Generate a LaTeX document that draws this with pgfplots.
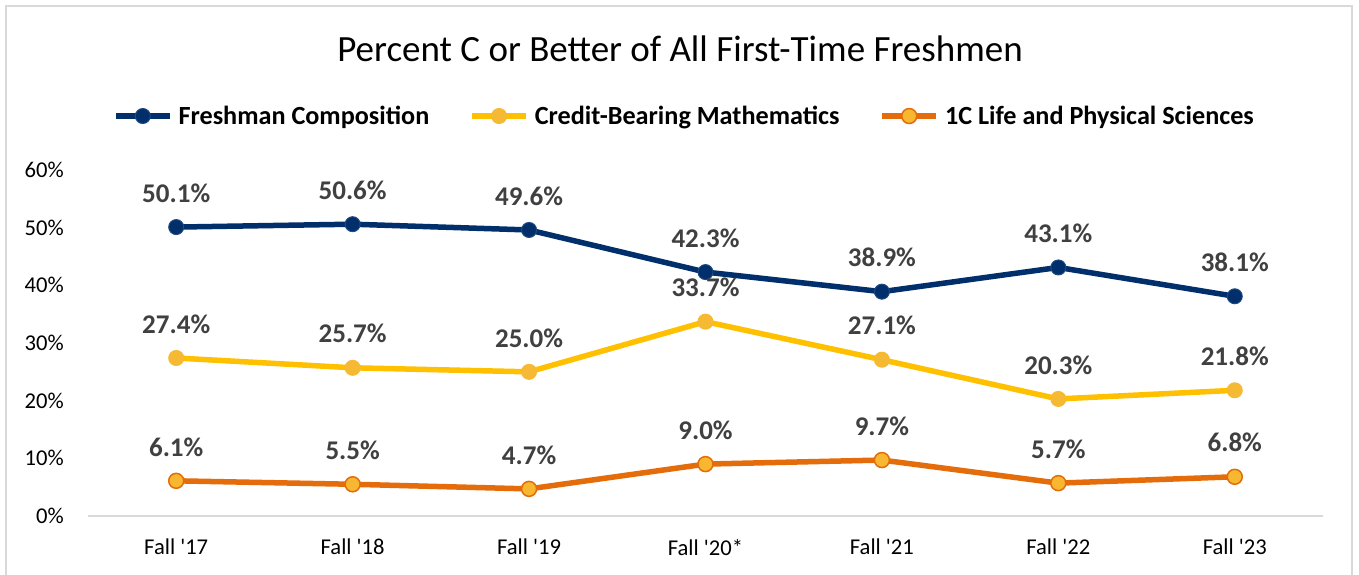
\documentclass[border=0pt]{standalone}
\usepackage{pgfplots}
\pgfplotsset{compat=1.18}
\usepackage{fontspec}
\setmainfont{Carlito}
\definecolor{navy}{HTML}{002F6B}
\definecolor{navyedge}{HTML}{1F4A80}
\definecolor{gold}{HTML}{FFC000}
\definecolor{goldfill}{HTML}{F6B933}
\definecolor{orangeline}{HTML}{E46C0A}
\definecolor{orangefill}{HTML}{F7B731}
\definecolor{labelgray}{HTML}{404040}
\definecolor{framegray}{HTML}{D9D9D9}
\definecolor{axisgray}{HTML}{D9D9D9}
\begin{document}
\begin{tikzpicture}
\useasboundingbox (0,0) rectangle (1359pt,575pt);
\fill[white] (0,0) rectangle (1359pt,575pt);
\draw[framegray, line width=1.5pt] (6pt,-10pt) -- (6pt,569pt) -- (1352pt,569pt) -- (1352pt,-10pt);
\node[anchor=base, inner sep=0pt, font=\fontsize{37}{44}\selectfont] at (680pt,513pt) {Percent C or Better of All First-Time Freshmen};
\begin{axis}[
  at={(88pt,59pt)}, anchor=south west,
  width=1235pt, height=346pt, scale only axis,
  xmin=-0.5, xmax=6.5, ymin=0, ymax=60,
  clip=false,
  xtick={0,1,2,3,4,5,6},
  xticklabels={Fall \textquotesingle17, Fall \textquotesingle18, Fall \textquotesingle19, Fall \textquotesingle20*, Fall \textquotesingle21, Fall \textquotesingle22, Fall \textquotesingle23},
  ytick={0,10,20,30,40,50,60},
  yticklabel={\pgfmathprintnumber{\tick}\%},
  axis x line*=bottom, axis y line*=left,
  x axis line style={draw=axisgray, line width=1.5pt, -},
  y axis line style={draw=none},
  tick style={draw=none},
  /pgf/number format/assume math mode=true,
  ticklabel style={font=\fontsize{22.6}{27}\selectfont, text=black},
  yticklabel style={anchor=east, inner sep=0pt, xshift=-24pt},
  xticklabel style={anchor=north, inner sep=0pt, yshift=-23pt},
  nodes near coords={\pgfmathprintnumber[fixed,fixed zerofill,precision=1]{\pgfplotspointmeta}\%},
  nodes near coords style={font=\bfseries\fontsize{27}{32}\selectfont, text=labelgray, anchor=center, yshift=34pt},
  legend style={at={(axis description cs:0.4822,1.156)}, anchor=center, draw=none, fill=none,
    font=\bfseries\fontsize{26.2}{32}\selectfont, nodes={inner sep=0pt},
    /tikz/every odd column/.append style={column sep=6pt},
    /tikz/every even column/.append style={column sep=40pt}},
  legend columns=3,
  legend cell align=left,
  legend image code/.code={\draw[mark repeat=2,mark phase=2,#1] plot coordinates {(0pt,0pt) (27pt,0pt) (54pt,0pt)};},
  every axis plot/.append style={line join=round},
]
\addplot[navy, line width=5.5pt, mark=*, mark size=7.5pt, mark options={fill=navy, draw=navyedge, line width=1pt}]
  coordinates {(0,50.1) (1,50.6) (2,49.6) (3,42.3) (4,38.9) (5,43.1) (6,38.1)};
\addlegendentry{Freshman Composition}
\addplot[gold, line width=5.5pt, mark=*, mark size=7.5pt, mark options={fill=goldfill, draw=goldfill, line width=1pt}]
  coordinates {(0,27.4) (1,25.7) (2,25.0) (3,33.7) (4,27.1) (5,20.3) (6,21.8)};
\addlegendentry{Credit-Bearing Mathematics}
\addplot[orangeline, line width=5.5pt, mark=*, mark size=7.5pt, mark options={fill=orangefill, draw=orangeline, line width=1.5pt}]
  coordinates {(0,6.1) (1,5.5) (2,4.7) (3,9.0) (4,9.7) (5,5.7) (6,6.8)};
\addlegendentry{1C Life and Physical Sciences}
\end{axis}
\end{tikzpicture}
\end{document}
